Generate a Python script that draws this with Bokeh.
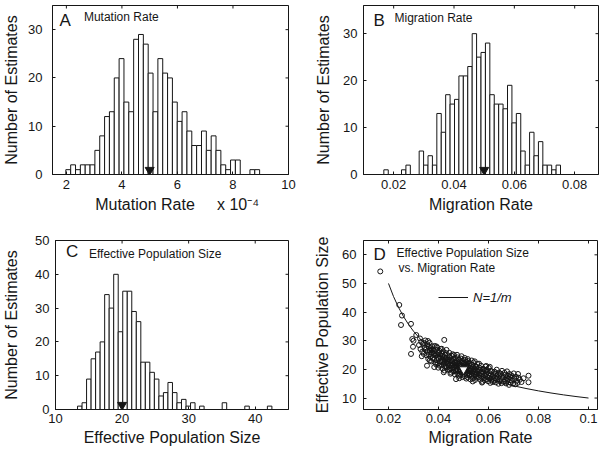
import numpy as np
from bokeh.plotting import figure
from bokeh.layouts import column, row
from bokeh.models import Range1d, FixedTicker, Label, Legend, LegendItem
from bokeh.embed import file_html
from bokeh.resources import INLINE

FONT = "Liberation Sans"
INK = "#161616"
NB = "\u00a0"

# ---------------- data ----------------
# A: mutation rate histogram (x in units of 1e-4)
mut_bin_start = 1.98
mut_bin_width = 0.1745
mut_counts = [1, 2, 1, 2, 2, 2, 5, 8, 12, 13, 20, 24, 15, 13, 28, 29, 27, 21, 13, 24,
              21, 20, 15, 11, 13, 9, 6, 6, 9, 5, 8, 5, 2, 1, 3, 3, 0, 0, 1, 1]
mut_true = [5.0]

# B: migration rate histogram
mig_bin_start = 0.01674
mig_bin_width = 0.001464
mig_counts = [1, 0, 0, 0, 1, 2, 0, 0, 5, 2, 4, 2, 13, 9, 17, 15, 16, 21, 21, 23,
              30, 25, 26, 28, 17, 15, 15, 14, 19, 11, 13, 5, 2, 9, 4, 7, 2, 2, 1, 2]
mig_true = [0.05]

# C: effective population size histogram
ne_bin_start = 13.31
ne_bin_width = 0.679
ne_counts = [1, 2, 9, 15, 17, 20, 34, 30, 40, 23, 35, 35, 29, 26, 14, 14, 11, 9, 4, 5,
             8, 5, 2, 3, 1, 2, 0, 1, 0, 0, 0, 0, 2, 0, 0, 0, 0, 1, 0, 0, 0, 0, 1]
ne_true = [20.0]

# D: joint estimates (migration rate, effective population size)
d_points = [
    (0.0167, 54.2), (0.0243, 42.5), (0.0254, 38.8), (0.0250, 35.5), (0.0290, 35.9), (0.0311, 32.0),
    (0.0295, 30.6), (0.0300, 30.0), (0.0290, 25.4), (0.0298, 27.9), (0.0354, 21.3), (0.0423, 30.3),
    (0.0470, 16.6), (0.0760, 17.8), (0.0760, 15.5), (0.0718, 18.4),
    (0.0322, 28.5), (0.0328, 27.1), (0.0331, 29.6), (0.0335, 26.2), (0.0338, 28.9), (0.0341, 25.4),
    (0.0344, 27.7), (0.0347, 30.1), (0.0349, 26.8), (0.0333, 24.6), (0.0326, 30.8), (0.0343, 29.2),
    (0.0351, 27.3), (0.0353, 24.9), (0.0355, 28.8), (0.0357, 26.1), (0.0359, 23.7), (0.0361, 27.9),
    (0.0362, 25.2), (0.0364, 29.3), (0.0366, 26.6), (0.0368, 24.4), (0.0369, 27.4), (0.0371, 22.8),
    (0.0372, 25.8), (0.0374, 28.1), (0.0376, 24.0), (0.0377, 26.9), (0.0379, 25.1), (0.0358, 29.9),
    (0.0365, 23.1), (0.0373, 27.0),
    (0.0381, 26.4), (0.0382, 23.6), (0.0384, 25.7), (0.0385, 28.2), (0.0387, 22.4), (0.0388, 24.8),
    (0.0390, 26.9), (0.0391, 21.7), (0.0393, 25.3), (0.0394, 23.2), (0.0395, 27.6), (0.0397, 24.1),
    (0.0398, 22.0), (0.0400, 25.9), (0.0401, 23.9), (0.0403, 26.5), (0.0404, 21.3), (0.0405, 24.6),
    (0.0407, 22.7), (0.0408, 27.1), (0.0383, 20.8), (0.0392, 28.0), (0.0399, 20.6), (0.0406, 25.2),
    (0.0410, 23.8), (0.0411, 21.4), (0.0412, 25.6), (0.0414, 22.6), (0.0415, 24.7), (0.0416, 20.3),
    (0.0418, 23.1), (0.0419, 26.3), (0.0420, 21.9), (0.0422, 24.2), (0.0423, 22.2), (0.0424, 19.6),
    (0.0426, 25.1), (0.0427, 23.4), (0.0428, 21.0), (0.0430, 24.0), (0.0431, 22.5), (0.0432, 26.8),
    (0.0434, 20.7), (0.0435, 23.3), (0.0436, 21.8), (0.0438, 24.9), (0.0439, 22.0), (0.0413, 27.2),
    (0.0421, 19.0), (0.0429, 25.7), (0.0437, 19.9), (0.0425, 22.9),
    (0.0440, 23.5), (0.0441, 21.1), (0.0442, 22.7), (0.0444, 19.8), (0.0445, 24.3), (0.0446, 21.6),
    (0.0447, 20.4), (0.0449, 23.0), (0.0450, 22.1), (0.0451, 18.9), (0.0452, 24.8), (0.0454, 21.4),
    (0.0455, 20.0), (0.0456, 22.9), (0.0457, 25.3), (0.0459, 19.3), (0.0460, 21.9), (0.0461, 23.7),
    (0.0463, 20.8), (0.0464, 22.4), (0.0465, 18.3), (0.0466, 24.0), (0.0468, 21.2), (0.0469, 19.7),
    (0.0443, 25.8), (0.0448, 18.5), (0.0453, 23.2), (0.0458, 20.6), (0.0462, 25.0), (0.0467, 22.6),
    (0.0470, 21.5), (0.0471, 19.4), (0.0472, 23.1), (0.0473, 20.2), (0.0474, 22.3), (0.0475, 18.6),
    (0.0476, 21.0), (0.0477, 24.2), (0.0478, 19.9), (0.0479, 22.0), (0.0480, 20.6), (0.0481, 17.8),
    (0.0482, 23.4), (0.0483, 21.3), (0.0484, 19.2), (0.0485, 22.7), (0.0486, 20.1), (0.0487, 18.2),
    (0.0488, 21.7), (0.0489, 23.8), (0.0490, 19.6), (0.0491, 20.9), (0.0492, 22.5), (0.0493, 18.9),
    (0.0494, 21.1), (0.0495, 17.3), (0.0496, 20.4), (0.0497, 23.0), (0.0498, 19.0), (0.0499, 21.9),
    (0.0474, 25.1), (0.0483, 16.9), (0.0492, 24.6), (0.0487, 20.0),
    (0.0500, 20.7), (0.0501, 18.4), (0.0502, 22.2), (0.0503, 19.5), (0.0504, 21.5), (0.0505, 17.6),
    (0.0506, 20.2), (0.0507, 23.3), (0.0508, 18.9), (0.0509, 21.0), (0.0510, 19.8), (0.0511, 16.8),
    (0.0512, 22.6), (0.0513, 20.5), (0.0514, 18.1), (0.0515, 21.8), (0.0516, 19.2), (0.0517, 17.2),
    (0.0518, 20.9), (0.0519, 22.9), (0.0520, 18.6), (0.0521, 20.0), (0.0522, 21.3), (0.0523, 17.9),
    (0.0524, 19.6), (0.0525, 22.1), (0.0526, 18.3), (0.0527, 20.4), (0.0528, 16.5), (0.0529, 19.1),
    (0.0505, 24.0), (0.0517, 23.6),
    (0.0531, 20.1), (0.0532, 17.7), (0.0534, 21.6), (0.0535, 18.8), (0.0536, 20.7), (0.0538, 16.9),
    (0.0539, 19.5), (0.0540, 22.4), (0.0542, 18.2), (0.0543, 20.3), (0.0544, 19.0), (0.0546, 16.3),
    (0.0547, 21.2), (0.0548, 19.8), (0.0550, 17.5), (0.0551, 20.9), (0.0552, 18.5), (0.0554, 17.1),
    (0.0555, 21.9), (0.0556, 19.3), (0.0533, 23.1), (0.0537, 15.8), (0.0541, 20.0), (0.0545, 22.8),
    (0.0549, 18.0), (0.0553, 19.7),
    (0.0560, 19.4), (0.0561, 17.2), (0.0563, 20.6), (0.0564, 18.1), (0.0566, 19.9), (0.0567, 16.4),
    (0.0569, 18.7), (0.0570, 21.3), (0.0572, 17.6), (0.0573, 19.2), (0.0575, 18.3), (0.0576, 15.7),
    (0.0578, 20.2), (0.0579, 18.9), (0.0581, 16.9), (0.0582, 20.0), (0.0584, 17.9), (0.0585, 16.2),
    (0.0587, 19.6), (0.0588, 21.0), (0.0562, 22.0), (0.0574, 15.4),
    (0.0590, 18.4), (0.0592, 16.6), (0.0593, 19.8), (0.0595, 17.3), (0.0596, 19.1), (0.0598, 15.9),
    (0.0600, 18.0), (0.0601, 20.5), (0.0603, 17.0), (0.0604, 18.7), (0.0606, 17.7), (0.0607, 15.3),
    (0.0609, 19.5), (0.0610, 18.2), (0.0612, 16.3), (0.0613, 19.3), (0.0615, 17.4), (0.0617, 15.6),
    (0.0591, 21.2), (0.0605, 20.9),
    (0.0620, 18.0), (0.0622, 16.1), (0.0624, 19.2), (0.0626, 16.9), (0.0627, 18.6), (0.0629, 15.5),
    (0.0631, 17.6), (0.0633, 19.9), (0.0635, 16.5), (0.0637, 18.3), (0.0638, 17.2), (0.0640, 15.0),
    (0.0642, 18.9), (0.0644, 17.8), (0.0646, 15.9), (0.0648, 18.5), (0.0650, 16.7), (0.0652, 15.2),
    (0.0654, 19.5), (0.0656, 17.1),
    (0.0660, 17.4), (0.0662, 15.6), (0.0664, 18.8), (0.0666, 16.4), (0.0668, 18.1), (0.0670, 15.1),
    (0.0672, 17.0), (0.0674, 19.3), (0.0676, 16.0), (0.0678, 17.8), (0.0680, 16.7), (0.0682, 14.6),
    (0.0684, 18.4), (0.0686, 17.3), (0.0688, 15.4), (0.0690, 18.0),
    (0.0692, 16.2), (0.0695, 17.6), (0.0698, 15.0), (0.0701, 18.6), (0.0704, 16.8), (0.0707, 14.8),
    (0.0710, 17.4), (0.0713, 16.0), (0.0716, 15.3), (0.0720, 17.1), (0.0725, 16.4), (0.0732, 15.6),
    (0.0740, 16.9),
]
d_true = [(0.05, 20.0)]
curve_m = [0.020, 0.022, 0.024, 0.026, 0.028, 0.030, 0.033, 0.036, 0.040, 0.045, 0.050,
           0.055, 0.060, 0.065, 0.070, 0.075, 0.080, 0.085, 0.090, 0.095, 0.100]

# tick positions
a_xticks, a_yticks = [2, 4, 6, 8, 10], [0, 10, 20, 30]
b_xticks, b_yticks = [0.02, 0.04, 0.06, 0.08], [0, 10, 20, 30]
c_xticks, c_yticks = [10, 20, 30, 40], [0, 10, 20, 30, 40, 50]
d_xticks, d_yticks = [0.02, 0.04, 0.06, 0.08, 0.1], [10, 20, 30, 40, 50, 60]

FH = 169  # frame height of every panel (px)
TICK = 3  # inward tick length (px)


def style_axis(ax, ticks):
    ax.ticker = FixedTicker(ticks=ticks)
    ax.major_tick_in = TICK
    ax.major_tick_out = 0
    ax.minor_tick_line_color = None
    ax.major_tick_line_color = INK
    ax.axis_line_color = INK
    ax.major_label_text_font = FONT
    ax.major_label_text_font_size = "13px"
    ax.major_label_text_color = INK
    ax.axis_label_text_font = FONT
    ax.axis_label_text_font_size = "16px"
    ax.axis_label_text_font_style = "normal"
    ax.axis_label_text_color = INK


def panel(xr, yr, xt, yt, fw, w, h, bl, br, bt, bb, xlabel, ylabel, xs, xas, ys, yas):
    p = figure(width=w, height=h, x_range=Range1d(*xr), y_range=Range1d(*yr),
               output_backend="svg", toolbar_location=None,
               min_border_left=bl, min_border_right=br, min_border_top=bt, min_border_bottom=bb,
               x_axis_label=xlabel, y_axis_label=ylabel)
    p.grid.visible = False
    p.outline_line_color = INK
    p.outline_line_width = 1
    p.background_fill_color = "white"
    p.border_fill_color = "white"
    style_axis(p.xaxis[0], xt)
    style_axis(p.yaxis[0], yt)
    p.xaxis[0].major_label_standoff = xs
    p.xaxis[0].axis_label_standoff = xas
    p.yaxis[0].major_label_standoff = ys
    p.yaxis[0].axis_label_standoff = yas
    # mirrored inward ticks on the top and right edges of the box
    x0, x1 = xr
    y0, y1 = yr
    dy = TICK * (y1 - y0) / FH
    dx = TICK * (x1 - x0) / fw
    p.segment(x0=xt, x1=xt, y0=[y1] * len(xt), y1=[y1 - dy] * len(xt), line_color=INK, line_width=1)
    p.segment(x0=[x1] * len(yt), x1=[x1 - dx] * len(yt), y0=yt, y1=yt, line_color=INK, line_width=1)
    return p


def frame_pt(p, fw, dx, dy):
    """data coordinates of a point dx px right / dy px below the frame's top-left"""
    x0, x1 = p.x_range.start, p.x_range.end
    y0, y1 = p.y_range.start, p.y_range.end
    return x0 + dx * (x1 - x0) / fw, y1 - dy * (y1 - y0) / FH


def note(p, fw, dx, dy, text, size, style="normal"):
    x, y = frame_pt(p, fw, dx, dy)
    p.add_layout(Label(x=x, y=y, text=text, text_font=FONT, text_font_size=size,
                       text_font_style=style, text_color=INK, text_baseline="middle",
                       text_align="left"))


def hist(p, start, width, counts):
    n = len(counts)
    left = start + width * np.arange(n)
    p.quad(left=left, right=left + width, bottom=0, top=counts,
           fill_color="white", line_color=INK, line_width=1)


def marker_down(p, xs, fill):
    y0, y1 = p.y_range.start, p.y_range.end
    ypos = [y0 + 4.5 * (y1 - y0) / FH] * len(xs)
    p.scatter(xs, ypos, marker="inverted_triangle", size=9, fill_color=fill, line_color=INK)


# ---- A ----
A_FW = 238
a_xlabel = NB * 3 + "Mutation Rate" + NB * 5 + "x 10\u207b\u2074"
pA = panel((1.5, 10.0), (0, 35), a_xticks, a_yticks, A_FW, 301, 224, 50, 13, 5, 50,
           a_xlabel, "Number of Estimates", 5, 4, 10, 5)
hist(pA, mut_bin_start, mut_bin_width, mut_counts)
marker_down(pA, mut_true, INK)
note(pA, A_FW, 7, 14.7, "A", "17px")
note(pA, A_FW, 31.7, 11.7, "Mutation Rate", "12px")

# ---- B ----
B_FW = 235
pB = panel((0.01, 0.01 + B_FW / 3017.0), (0, 36), b_xticks, b_yticks, B_FW, 301, 224, 62, 4, 5, 50,
           "Migration Rate", "Number of Estimates", 5, 4, 6, 8)
hist(pB, mig_bin_start, mig_bin_width, mig_counts)
marker_down(pB, mig_true, INK)
note(pB, B_FW, 10, 15, "B", "17px")
note(pB, B_FW, 31, 12, "Migration Rate", "12px")

# ---- C ----
C_FW = 237
pC = panel((10, 45), (0, 50), c_xticks, c_yticks, C_FW, 301, 226, 51, 13, 16, 41,
           "Effective Population Size", "Number of Estimates", 4, 3, 6, 12)
hist(pC, ne_bin_start, ne_bin_width, ne_counts)
marker_down(pC, ne_true, INK)
note(pC, C_FW, 10.7, 11, "C", "17px")
note(pC, C_FW, 34, 13.3, "Effective Population Size", "12px")

# ---- D ----
D_FW = 234
pD = panel((0.01, 0.01 + D_FW / 2500.0), (6, 65), d_xticks, d_yticks, D_FW, 301, 226, 62, 5, 16, 41,
           "Migration Rate", "Effective Population Size", 4, 3, 7, 8)
dm = [pt[0] for pt in d_points]
dn = [pt[1] for pt in d_points]
pD.scatter(dm, dn, marker="circle", size=5, fill_color=None, line_color=INK, line_width=1.0)
cm = np.array(curve_m)
curve = pD.line(cm, 1.0 / cm, line_color=INK, line_width=1)
pD.scatter([t[0] for t in d_true], [t[1] for t in d_true], marker="inverted_triangle", size=9,
           fill_color="white", line_color=INK)
note(pD, D_FW, 10, 14, "D", "17px")
note(pD, D_FW, 33, 12.6, "Effective Population Size", "12px")
note(pD, D_FW, 35, 27.6, "vs. Migration Rate", "12px")
leg = Legend(items=[LegendItem(label="N=1/m", renderers=[curve])], location=(75, 102),
             padding=0, margin=0, spacing=0, glyph_width=30, glyph_height=20, label_standoff=5,
             border_line_alpha=0, background_fill_alpha=0, label_text_font=FONT,
             label_text_font_size="13px", label_text_font_style="italic", label_text_color=INK)
pD.add_layout(leg)

layout = column(row(pA, pB), row(pC, pD))
open("out.html", "w").write(file_html(layout, INLINE))
